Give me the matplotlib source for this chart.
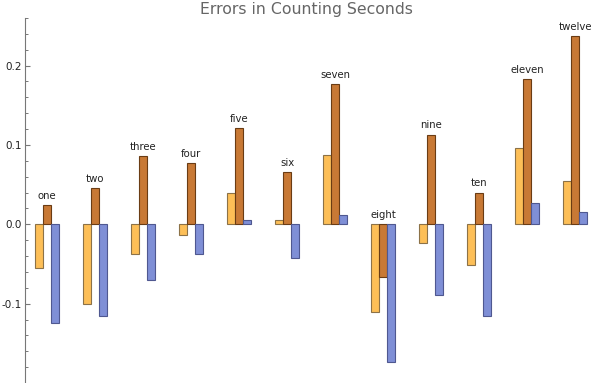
import matplotlib
matplotlib.use('Agg')
import matplotlib.pyplot as plt
import numpy as np
from matplotlib.ticker import MultipleLocator

labels = ["one", "two", "three", "four", "five", "six",
          "seven", "eight", "nine", "ten", "eleven", "twelve"]
series_a = [-0.055, -0.101, -0.038, -0.014, 0.040, 0.006,
            0.087, -0.110, -0.023, -0.051, 0.096, 0.055]
series_b = [0.024, 0.046, 0.086, 0.077, 0.121, 0.066,
            0.177, -0.066, 0.113, 0.040, 0.183, 0.237]
series_c = [-0.124, -0.116, -0.070, -0.037, 0.006, -0.043,
            0.012, -0.174, -0.089, -0.115, 0.027, 0.016]
yticks = [-0.1, 0.0, 0.1, 0.2]

colors = ["#FDBF57", "#C87935", "#7F8FD6"]
edges = ["#8C7248", "#6A3C14", "#4F5890"]

fig = plt.figure(figsize=(6, 3.83), dpi=100)
ax = fig.add_axes([0.041, 0.0, 0.959, 0.953])

x = np.arange(len(labels))
w = 1 / 6
for k, vals in enumerate([series_a, series_b, series_c]):
    ax.bar(x + (k - 1) * w, vals, width=w, color=colors[k],
           edgecolor=edges[k], linewidth=0.8)

# group labels above the tallest bar (or above zero)
for i, lab in enumerate(labels):
    top = max(0, series_a[i], series_b[i], series_c[i])
    ax.annotate(lab, (x[i], top), xytext=(0, 3), textcoords='offset points',
                ha='center', va='bottom', fontsize=7.3, color='#222222')

ax.set_xlim(-0.471, 11.515)
ax.set_ylim(-0.2, 0.26)

for s in ['top', 'right', 'bottom']:
    ax.spines[s].set_visible(False)
ax.spines['left'].set_color('#777777')
ax.set_xticks([])
ax.set_yticks(yticks)
ax.set_yticklabels([f"{v:.1f}" for v in yticks])
ax.yaxis.set_minor_locator(MultipleLocator(0.02))
ax.tick_params(axis='y', which='major', direction='in', length=3.5, width=0.8,
               color='#777777', labelsize=7.5, labelcolor='#222222', pad=2)
ax.tick_params(axis='y', which='minor', direction='in', length=2, width=0.7,
               color='#777777')

fig.text(306 / 600, 1 - 9.5 / 383, "Errors in Counting Seconds",
         ha='center', va='center', fontsize=11.3, color='#666666')

fig.savefig("out.png", dpi=100)
